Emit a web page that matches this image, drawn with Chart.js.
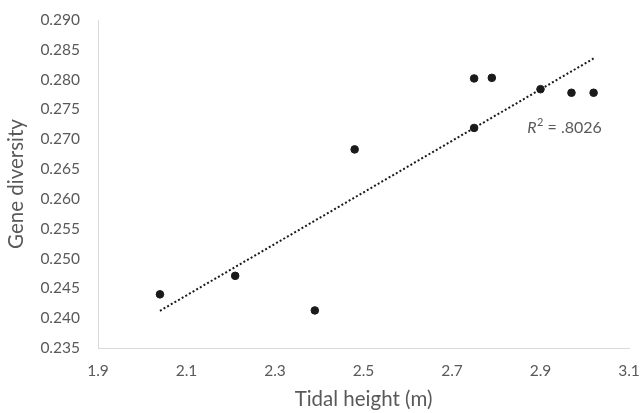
<!DOCTYPE html>
<html><head><meta charset="utf-8">
<script src="https://cdn.jsdelivr.net/npm/chart.js@4"></script>
<style>html,body{margin:0;padding:0;background:#fff}#wrap{width:641px;height:413px}</style>
</head><body><div id="wrap"><canvas id="c" width="641" height="413"></canvas></div>
<script>
const tidalHeight = [2.04, 2.21, 2.39, 2.48, 2.75, 2.79, 2.75, 2.90, 2.97, 3.02];
const geneDiversity = [0.2440, 0.2471, 0.2413, 0.2683, 0.2802, 0.2803, 0.2719, 0.2784, 0.2778, 0.2778];
const xTicks = [1.9, 2.1, 2.3, 2.5, 2.7, 2.9, 3.1];
const yTicks = [0.235, 0.240, 0.245, 0.250, 0.255, 0.260, 0.265, 0.270, 0.275, 0.280, 0.285, 0.290];
const r2Label = ".8026";

const pts = tidalHeight.map((x, i) => ({x, y: geneDiversity[i]}));
const n = pts.length;
const mx = tidalHeight.reduce((a, b) => a + b, 0) / n;
const my = geneDiversity.reduce((a, b) => a + b, 0) / n;
let sxy = 0, sxx = 0;
pts.forEach(p => { sxy += (p.x - mx) * (p.y - my); sxx += (p.x - mx) ** 2; });
const slope = sxy / sxx, icpt = my - slope * mx;
const xMin = Math.min(...tidalHeight), xMax = Math.max(...tidalHeight);
const trend = [{x: xMin, y: icpt + slope * xMin}, {x: xMax, y: icpt + slope * xMax}];

const FONT = "Lato, 'Open Sans', sans-serif";
const GRAY = '#595959';

const labelPlugin = {
  id: 'r2',
  afterDatasetsDraw(chart) {
    const ctx = chart.ctx;
    const px = chart.scales.x.getPixelForValue(2.87);
    const py = chart.scales.y.getPixelForValue(0.2719);
    ctx.save();
    ctx.fillStyle = GRAY;
    ctx.textBaseline = 'middle';
    ctx.font = "italic 16px " + FONT;
    ctx.fillText('R', px, py);
    let w = ctx.measureText('R').width;
    ctx.font = "11px " + FONT;
    ctx.fillText('2', px + w + 0.5, py - 5);
    w += ctx.measureText('2').width + 0.5;
    ctx.font = "16px " + FONT;
    ctx.fillText(' = ' + r2Label, px + w, py);
    ctx.restore();
  }
};

new Chart(document.getElementById('c'), {
  type: 'scatter',
  data: {
    datasets: [
      {data: pts, backgroundColor: '#1a1a1a', borderColor: '#1a1a1a', pointRadius: 3.8, pointHoverRadius: 3.8, order: 1},
      {type: 'line', data: trend, borderColor: '#1a1a1a', borderWidth: 2, borderDash: [2, 2.2], pointRadius: 0, fill: false, order: 2}
    ]
  },
  options: {
    responsive: false,
    animation: false,
    events: [],
    layout: {padding: {left: 0, right: 12, top: 20, bottom: 0}},
    plugins: {legend: {display: false}, tooltip: {enabled: false}},
    scales: {
      x: {
        type: 'linear', min: 1.9, max: 3.1,
        afterBuildTicks: s => { s.ticks = xTicks.map(v => ({value: v})); },
        afterFit: s => { s.height = 65; s.paddingLeft = 0; s.paddingRight = 0; },
        grid: {display: false, drawTicks: false},
        border: {display: true, color: '#d9d9d9', width: 1},
        ticks: {color: GRAY, font: {family: FONT, size: 15.5}, padding: 14, callback: v => v.toFixed(1)},
        title: {display: true, text: 'Tidal height (m)', color: GRAY, font: {family: FONT, size: 20.5}, padding: {top: 2, bottom: 1}}
      },
      y: {
        type: 'linear', min: 0.235, max: 0.290,
        afterBuildTicks: s => { s.ticks = yTicks.map(v => ({value: v})); },
        afterFit: s => { s.width = 98; s.paddingTop = 0; s.paddingBottom = 0; },
        grid: {display: false, drawTicks: false},
        border: {display: true, color: '#d9d9d9', width: 1},
        ticks: {color: GRAY, font: {family: FONT, size: 15.5}, padding: 18, callback: v => v.toFixed(3)},
        title: {display: true, text: 'Gene diversity', color: GRAY, font: {family: FONT, size: 20.5}, padding: {top: 4, bottom: 4}}
      }
    }
  },
  plugins: [labelPlugin]
});
</script></body></html>
